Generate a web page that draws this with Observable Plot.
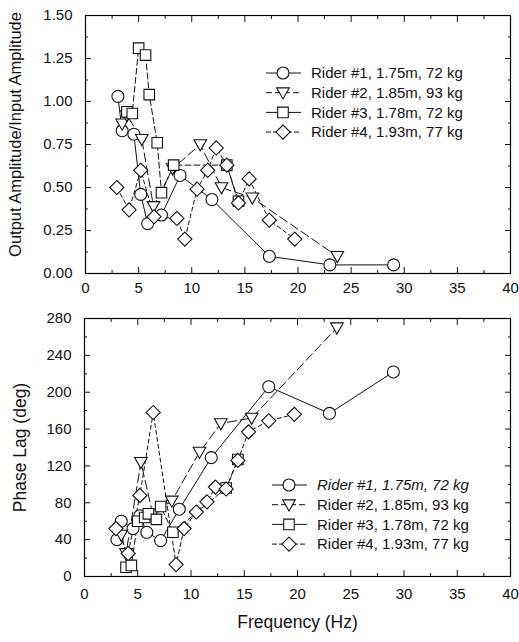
<!DOCTYPE html>
<html>
<head>
<meta charset="utf-8">
<script src="https://cdn.jsdelivr.net/npm/d3@7"></script>
<script src="https://cdn.jsdelivr.net/npm/@observablehq/plot@0.6"></script>
<style>
  html, body { margin: 0; padding: 0; background: #fff; }
  #wrap { position: relative; width: 519px; height: 642px; font-family: "Liberation Sans", Arial, sans-serif; }
  #wrap svg { display: block; }
  .legend { position: absolute; overflow: visible; }
</style>
</head>
<body>
<div id="wrap"></div>
<script>
// ---------- data ----------
const riderNames = ["Rider #1, 1.75m, 72 kg", "Rider #2, 1.85m, 93 kg", "Rider #3, 1.78m, 72 kg", "Rider #4, 1.93m, 77 kg"];

const freq1 = [3.05, 3.45, 4.55, 5.2, 5.85, 7.15, 8.9, 11.9, 17.3, 23.0, 29.0];
const amp1 = [1.03, 0.83, 0.81, 0.46, 0.29, 0.34, 0.57, 0.43, 0.10, 0.05, 0.05];
const phase1 = [40, 60, 52, 66, 48, 39, 73, 129, 206, 177, 222];

const freq2 = [3.45, 3.9, 5.3, 6.4, 8.2, 10.8, 12.8, 15.7, 23.7];
const amp2 = [0.87, 0.92, 0.78, 0.39, 0.61, 0.75, 0.50, 0.44, 0.10];
const phase2 = [45, 25, 124, 68, 82, 135, 166, 172, 270];

const freq3 = [3.9, 4.4, 5.0, 5.65, 6.0, 6.75, 7.15, 8.3, 13.3, 14.4];
const amp3 = [0.94, 0.93, 1.31, 1.27, 1.04, 0.76, 0.47, 0.63, 0.63, 0.42];
const phase3 = [10, 12, 60, 64, 68, 62, 76, 48, 96, 127];

const freq4 = [2.95, 4.1, 5.2, 6.45, 8.6, 9.35, 10.5, 11.5, 12.3, 13.3, 14.4, 15.4, 17.3, 19.7];
const amp4 = [0.50, 0.37, 0.60, 0.33, 0.32, 0.20, 0.49, 0.60, 0.73, 0.63, 0.41, 0.55, 0.31, 0.20];
const phase4 = [52, 25, 88, 178, 13, 52, 70, 81, 97, 95, 126, 157, 169, 176];

const xTicks = [0, 5, 10, 15, 20, 25, 30, 35, 40];
const xMinorTicks = [2.5, 7.5, 12.5, 17.5, 22.5, 27.5, 32.5, 37.5];
const ampTicks = [0, 0.25, 0.5, 0.75, 1.0, 1.25, 1.5];
const ampMinorTicks = [0.125, 0.375, 0.625, 0.875, 1.125, 1.375];
const phaseTicks = [0, 40, 80, 120, 160, 200, 240, 280];
const phaseMinorTicks = [20, 60, 100, 140, 180, 220, 260];

const topYTitle = "Output Amplitude/Input Amplitude";
const bottomYTitle = "Phase Lag (deg)";
const xTitle = "Frequency (Hz)";

// ---------- symbols ----------
const rOf = size => Math.sqrt(size / Math.PI);
const circleSym = {draw(c, s) { const r = rOf(s); c.moveTo(r, 0); c.arc(0, 0, r, 0, 2 * Math.PI); c.closePath(); }};
const triDownSym = {draw(c, s) { const r = rOf(s); const w = r * 1.05; c.moveTo(-w, -r * 0.8); c.lineTo(w, -r * 0.8); c.lineTo(0, r * 1.05); c.closePath(); }};
const squareSym = {draw(c, s) { const r = rOf(s); const a = r * 0.88; c.moveTo(-a, -a); c.lineTo(a, -a); c.lineTo(a, a); c.lineTo(-a, a); c.closePath(); }};
const diamondSym = {draw(c, s) { const r = rOf(s); const a = r * 1.18; c.moveTo(0, -a); c.lineTo(a, 0); c.lineTo(0, a); c.lineTo(-a, 0); c.closePath(); }};

const symbols = [circleSym, triDownSym, squareSym, diamondSym];
const dashes = [null, "9,4", "6,3", "4,3"];

const FONT = "'Liberation Sans', Arial, Helvetica, sans-serif";

function series(freq, vals) { return freq.map((f, i) => ({f, v: vals[i]})); }

function frameAxes(yTicks, yMinor, yFormat, xPad) {
  return [
    Plot.axisX(xTicks, {anchor: "bottom", tickSize: 0, tickPadding: xPad, fontSize: 15, label: null}),
    Plot.axisY(yTicks, {anchor: "left", tickSize: 0, tickPadding: 13, fontSize: 15, tickFormat: yFormat, label: null}),
    Plot.axisX(xTicks, {anchor: "bottom", tickSize: -6, fill: "none", label: null}),
    Plot.axisX(xMinorTicks, {anchor: "bottom", tickSize: -3, fill: "none", label: null}),
    Plot.axisX(xTicks, {anchor: "top", tickSize: -6, fill: "none", label: null}),
    Plot.axisX(xMinorTicks, {anchor: "top", tickSize: -3, fill: "none", label: null}),
    Plot.axisY(yTicks, {anchor: "left", tickSize: -6, fill: "none", label: null}),
    Plot.axisY(yMinor, {anchor: "left", tickSize: -3, fill: "none", label: null}),
    Plot.axisY(yTicks, {anchor: "right", tickSize: -6, fill: "none", label: null}),
    Plot.axisY(yMinor, {anchor: "right", tickSize: -3, fill: "none", label: null}),
    Plot.frame({stroke: "black", strokeWidth: 1.2})
  ];
}

function dataMarks(tables) {
  const lines = tables.map((t, i) => Plot.line(t, {x: "f", y: "v", stroke: "#111", strokeWidth: 1, strokeDasharray: dashes[i]}));
  const dots = tables.map((t, i) => Plot.dot(t, {x: "f", y: "v", symbol: symbols[i], r: 6, fill: "white", stroke: "#111", strokeWidth: 1.1}));
  return [...lines, ...dots];
}

const topTables = [series(freq1, amp1), series(freq2, amp2), series(freq3, amp3), series(freq4, amp4)];
const botTables = [series(freq1, phase1), series(freq2, phase2), series(freq3, phase3), series(freq4, phase4)];

const topPlot = Plot.plot({
  width: 519, height: 300,
  marginTop: 15, marginBottom: 27, marginLeft: 85, marginRight: 9,
  x: {domain: [0, 40]},
  y: {domain: [0, 1.5]},
  style: {fontFamily: FONT, color: "#111", background: "white", overflow: "visible"},
  marks: [
    ...dataMarks(topTables),
    ...frameAxes(ampTicks, ampMinorTicks, d3.format(".2f"), 9),
    Plot.text([topYTitle], {frameAnchor: "left", dx: -70, rotate: -90, textAnchor: "middle", lineAnchor: "middle", dy: -10, fontSize: 16.5, fill: "#111"})
  ]
});

const botPlot = Plot.plot({
  width: 519, height: 342,
  marginTop: 18, marginBottom: 66, marginLeft: 84, marginRight: 9,
  x: {domain: [0, 40]},
  y: {domain: [0, 280]},
  style: {fontFamily: FONT, color: "#111", background: "white", overflow: "visible"},
  marks: [
    ...dataMarks(botTables),
    ...frameAxes(phaseTicks, phaseMinorTicks, d3.format("d"), 12),
    Plot.text([bottomYTitle], {frameAnchor: "left", dx: -64, rotate: -90, textAnchor: "middle", lineAnchor: "middle", fontSize: 17.5, fill: "#111"}),
    Plot.text([xTitle], {frameAnchor: "bottom", dy: 46, textAnchor: "middle", lineAnchor: "middle", fontSize: 17.5, fill: "#111"})
  ]
});

const wrap = document.getElementById("wrap");
wrap.appendChild(topPlot);
wrap.appendChild(botPlot);

// ---------- legends ----------
function legend(left, top, italicFirst) {
  const w = 250, rowH = 19.7;
  const svg = d3.create("svg").attr("class", "legend").attr("width", w).attr("height", 4 * rowH + 6)
    .style("left", left + "px").style("top", top + "px");
  riderNames.forEach((name, i) => {
    const y = 9 + i * rowH;
    const g = svg.append("g").attr("transform", `translate(0,${y})`);
    g.append("line").attr("x1", 0).attr("x2", 35).attr("y1", 0).attr("y2", 0)
      .attr("stroke", "#111").attr("stroke-width", 1).attr("stroke-dasharray", i === 0 ? null : (i === 1 ? "6,3" : (i === 2 ? null : "5,2")));
    const p = d3.path();
    symbols[i].draw(p, Math.PI * 36);
    g.append("path").attr("d", p.toString()).attr("transform", "translate(17,0)")
      .attr("fill", "white").attr("stroke", "#111").attr("stroke-width", 1.1);
    g.append("text").attr("x", 45).attr("y", 0).attr("dy", "0.35em")
      .attr("font-family", FONT).attr("font-size", 15).attr("fill", "#111")
      .attr("font-style", italicFirst && i === 0 ? "italic" : null)
      .text(name);
  });
  wrap.appendChild(svg.node());
}
legend(266, 64, false);
legend(272, 476, true);
</script>
</body>
</html>
